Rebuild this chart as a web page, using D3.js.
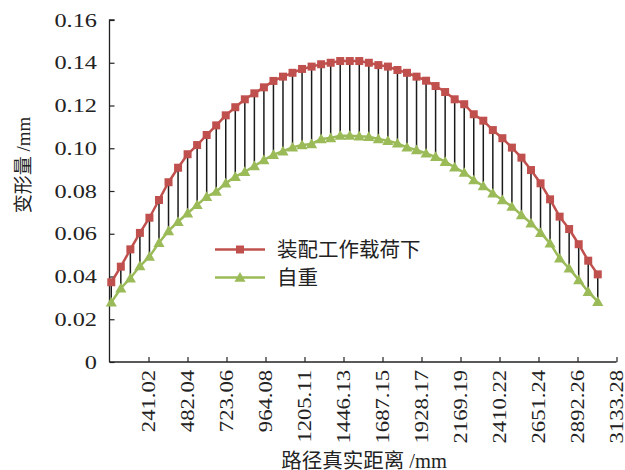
<!DOCTYPE html>
<html>
<head>
<meta charset="utf-8">
<script src="https://cdn.jsdelivr.net/npm/d3@7"></script>
<style>
  html, body { margin: 0; padding: 0; background: #fff; }
  svg { display: block; }
</style>
</head>
<body>
<svg id="chart" width="625" height="470"></svg>
<script>
// Distance along the path (mm) for each measuring point
const distances = [
  11.0, 70.0, 128.9, 187.9, 246.8, 305.8, 364.7, 423.7, 482.6, 541.6,
  600.5, 659.5, 718.4, 777.4, 836.3, 895.3, 954.2, 1013.2, 1072.1, 1131.1,
  1190.0, 1249.0, 1307.9, 1366.9, 1425.8, 1484.8, 1543.7, 1602.7, 1661.6, 1720.6,
  1779.5, 1838.5, 1897.4, 1956.4, 2015.3, 2074.3, 2133.2, 2192.2, 2251.1, 2310.1,
  2369.0, 2428.0, 2486.9, 2545.9, 2604.8, 2663.8, 2722.7, 2781.7, 2840.6, 2899.6,
  2958.5, 3017.5
];

// Deformation (mm) under assembly working load
const loadedDeform = [
  0.0373, 0.0446, 0.0527, 0.0604, 0.0675, 0.0758, 0.0841, 0.0909, 0.0972, 0.1015,
  0.1062, 0.1107, 0.1154, 0.1192, 0.1229, 0.1257, 0.1285, 0.1315, 0.1335, 0.1353,
  0.1371, 0.1382, 0.1393, 0.1400, 0.1408, 0.1408, 0.1408, 0.1400, 0.1389, 0.1382,
  0.1366, 0.1353, 0.1335, 0.1316, 0.1291, 0.1263, 0.1229, 0.1206, 0.1159, 0.1129,
  0.1085, 0.1047, 0.1003, 0.0956, 0.0898, 0.0836, 0.0761, 0.0680, 0.0622, 0.0551,
  0.0474, 0.0410
];

// Deformation (mm) under self weight
const selfWeightDeform = [
  0.0279, 0.0345, 0.0392, 0.0449, 0.0493, 0.0558, 0.0613, 0.0656, 0.0696, 0.0735,
  0.0773, 0.0797, 0.0836, 0.0867, 0.0890, 0.0917, 0.0945, 0.0970, 0.0986, 0.1004,
  0.1015, 0.1020, 0.1043, 0.1048, 0.1059, 0.1059, 0.1056, 0.1054, 0.1043, 0.1035,
  0.1023, 0.1004, 0.0992, 0.0976, 0.0960, 0.0937, 0.0911, 0.0886, 0.0851, 0.0823,
  0.0789, 0.0758, 0.0727, 0.0688, 0.0649, 0.0605, 0.0555, 0.0485, 0.0438, 0.0384,
  0.0329, 0.0282
];

const xTickValues = [241.02, 482.04, 723.06, 964.08, 1205.11, 1446.13, 1687.15,
  1928.17, 2169.19, 2410.22, 2651.24, 2892.26, 3133.28];
const xTickLabels = ["241.02", "482.04", "723.06", "964.08", "1205.11", "1446.13",
  "1687.15", "1928.17", "2169.19", "2410.22", "2651.24", "2892.26", "3133.28"];
const yTickValues = [0, 0.02, 0.04, 0.06, 0.08, 0.10, 0.12, 0.14, 0.16];
const yTickLabels = ["0", "0.02", "0.04", "0.06", "0.08", "0.10", "0.12", "0.14", "0.16"];

const seriesNames = ["装配工作载荷下", "自重"];
const seriesColors = ["#c0504d", "#9bbb59"];
const xTitle = "路径真实距离 /mm";
const yTitle = "变形量 /mm";

const serif = "'Liberation Serif', 'Times New Roman', 'Noto Sans CJK SC', serif";

const svg = d3.select("#chart");

const x = d3.scaleLinear().domain([0, 3133.28]).range([109.5, 616.5]);
const y = d3.scaleLinear().domain([0, 0.16]).range([362, 20]);

const rows = distances.map((d, i) => ({ d, hi: loadedDeform[i], lo: selfWeightDeform[i] }));

// Axes with inward ticks
const yAxis = svg.append("g")
  .attr("transform", `translate(${x(0)},0)`)
  .call(d3.axisLeft(y).tickValues(yTickValues).tickSize(-5).tickFormat(""));
yAxis.select(".domain").attr("d", `M0,${y(0)}V${y(0.16)}H5`);

const xAxis = svg.append("g")
  .attr("transform", `translate(0,${y(0)})`)
  .call(d3.axisBottom(x).tickValues(xTickValues).tickSize(-5).tickFormat(""));
xAxis.select(".domain").attr("d", `M${x(0)},0H${x(3133.28)}`);

[yAxis, xAxis].forEach(a => {
  a.selectAll(".domain").attr("stroke", "#222").attr("stroke-width", 1.3).attr("fill", "none");
  a.selectAll(".tick line").attr("stroke", "#222").attr("stroke-width", 1.2);
});

// Y tick labels
svg.append("g").selectAll("text")
  .data(yTickValues)
  .join("text")
  .attr("transform", v => `translate(97,${y(v)}) scale(1.28,1)`)
  .attr("text-anchor", "end")
  .attr("dy", "0.35em")
  .attr("font-family", serif)
  .attr("font-size", 19)
  .attr("fill", "#222")
  .text((v, i) => yTickLabels[i]);

// X tick labels, rotated
svg.append("g").selectAll("text")
  .data(xTickValues)
  .join("text")
  .attr("transform", v => `translate(${x(v)},370) rotate(-90) scale(1.19,1)`)
  .attr("text-anchor", "end")
  .attr("dy", "0.35em")
  .attr("font-family", serif)
  .attr("font-size", 19)
  .attr("fill", "#222")
  .text((v, i) => xTickLabels[i]);

// Axis titles
svg.append("text")
  .attr("x", 364).attr("y", 468)
  .attr("text-anchor", "middle")
  .attr("font-family", serif)
  .attr("font-size", 20.5)
  .attr("fill", "#222")
  .text(xTitle);

svg.append("text")
  .attr("transform", "translate(30,165) rotate(-90)")
  .attr("text-anchor", "middle")
  .attr("font-family", serif)
  .attr("font-size", 19)
  .attr("fill", "#222")
  .text(yTitle);

// High-low connectors between the two series
svg.append("g").selectAll("line")
  .data(rows)
  .join("line")
  .attr("x1", r => x(r.d)).attr("x2", r => x(r.d))
  .attr("y1", r => y(r.hi)).attr("y2", r => y(r.lo))
  .attr("stroke", "#1a1a1a")
  .attr("stroke-width", 1.5);

// Series lines
const line = d3.line().x(p => x(p[0])).y(p => y(p[1]));
const seriesData = [
  rows.map(r => [r.d, r.hi]),
  rows.map(r => [r.d, r.lo])
];
seriesData.forEach((pts, k) => {
  svg.append("path")
    .attr("d", line(pts))
    .attr("fill", "none")
    .attr("stroke", seriesColors[k])
    .attr("stroke-width", 2.5);
});

// Markers
const square = d3.symbol().type(d3.symbolSquare).size(64);
const triangle = d3.symbol().type(d3.symbolTriangle).size(54);
const markerGen = [square, triangle];
const markerShift = [0, 1];

seriesData.forEach((pts, k) => {
  svg.append("g").selectAll("path")
    .data(pts)
    .join("path")
    .attr("transform", p => `translate(${x(p[0])},${y(p[1]) + markerShift[k]})`)
    .attr("d", markerGen[k]())
    .attr("fill", seriesColors[k]);
});

// Legend
const legendRows = [249.5, 277.5];
const legend = svg.append("g");
seriesNames.forEach((name, k) => {
  const ly = legendRows[k];
  legend.append("line")
    .attr("x1", 215).attr("x2", 265)
    .attr("y1", ly).attr("y2", ly)
    .attr("stroke", seriesColors[k])
    .attr("stroke-width", 2.5);
  legend.append("path")
    .attr("transform", `translate(240,${ly + markerShift[k]})`)
    .attr("d", markerGen[k]())
    .attr("fill", seriesColors[k]);
  legend.append("text")
    .attr("x", 277).attr("y", ly + 7)
    .attr("font-family", serif)
    .attr("font-size", 20.5)
    .attr("fill", "#222")
    .text(name);
});
</script>
</body>
</html>
